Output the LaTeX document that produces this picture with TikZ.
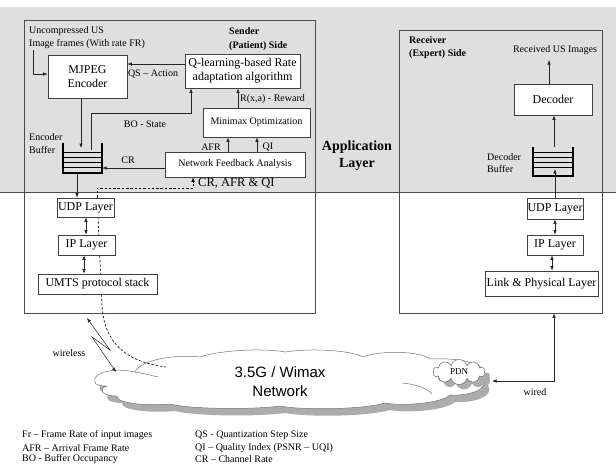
\documentclass[tikz,border=0pt]{standalone}
\usepackage{fontspec}
\setmainfont{Liberation Serif}
\newfontfamily\sansf{Liberation Sans}
\usetikzlibrary{arrows.meta,shapes.symbols,shadows}
\begin{document}
\begin{tikzpicture}[x=1pt,y=-1pt,
  box/.style={draw=black!75, line width=0.6pt, fill=white, inner sep=0pt, align=center, font=\fontsize{12}{14}\selectfont},
  smallbox/.style={box, font=\fontsize{10}{12}\selectfont},
  lbl/.style={inner sep=0pt, font=\fontsize{10}{13}\selectfont},
  blbl/.style={inner sep=0pt, align=left, font=\bfseries\fontsize{10}{14}\selectfont},
  arr/.style={-{Latex[length=4.5pt,width=3.5pt]}, line width=0.6pt, draw=black!85},
  darr/.style={{Latex[length=4.5pt,width=3.5pt]}-{Latex[length=4.5pt,width=3.5pt]}, line width=0.6pt, draw=black!85},
  frame/.style={draw=black!70, line width=0.7pt, inner sep=0pt},
  bufnode/.style={inner sep=0pt},
  thickbuf/.style={line width=1.7pt},
  fbdash/.style={dashed, dash pattern=on 2.5pt off 1.8pt, line width=0.6pt},
  cloudline/.style={draw=black!55, line width=0.5pt}
]
\useasboundingbox (0,0) rectangle (616,464);
\fill[white] (0,0) rectangle (616,464);
\fill[gray!25] (0,7) rectangle (616,192);
\draw[black!70, line width=0.7pt] (0,192) -- (616,192);

% frames
\node[frame, minimum width=291pt, minimum height=293pt] (sbox) at (169.5,166.5) {};
\node[frame, minimum width=203pt, minimum height=283pt] (rbox) at (500.5,171.5) {};

% main network cloud
\path[cloudline, fill=white, drop shadow={shadow xshift=5pt, shadow yshift=-7pt, fill=gray!65, opacity=1}]
  (95,382) .. controls (92,373) and (112,367) .. (135,372)
  .. controls (140,360) and (175,354) .. (200,357)
  .. controls (220,350) and (265,348) .. (285,352)
  .. controls (310,348) and (350,350) .. (363,357)
  .. controls (380,350) and (420,351) .. (430,359)
  .. controls (470,357) and (492,368) .. (483,378)
  .. controls (490,389) and (470,396) .. (450,395)
  .. controls (440,404) and (400,406) .. (385,403)
  .. controls (360,410) and (300,410) .. (280,406)
  .. controls (250,410) and (190,409) .. (170,404)
  .. controls (150,406) and (116,404) .. (117,396)
  .. controls (100,396) and (98,388) .. (107,386)
  .. controls (100,386) and (95,385) .. (95,382) -- cycle;
\draw[cloudline] (135,372) .. controls (142,373) and (150,375) .. (158,377);
\draw[cloudline] (402,383) .. controls (415,384) and (427,388) .. (432,394);
\node[inner sep=0pt, align=center, font=\sansf\fontsize{15}{19}\selectfont] (nettxt) at (280,382) {3.5G / Wimax\\Network};
\node[cloud, cloud puffs=10, aspect=1.9, draw=black!60, fill=white, line width=0.5pt,
      minimum width=52pt, minimum height=25pt, inner sep=0pt,
      drop shadow={shadow xshift=5pt, shadow yshift=-5pt, fill=gray!65, opacity=1},
      font=\fontsize{9}{10}\selectfont] (pdn) at (459,372) {PDN};

% dashed path down to the network
\coordinate (dt) at (98,217);
\coordinate (dm) at (102,305);
\coordinate (de) at (166,367);
\draw[fbdash] (dt) -- (dm) .. controls (104,345) and (128,362) .. (de);

% sender boxes
\node[box, minimum width=79pt, minimum height=43pt] (mjpeg) at (87.5,76.5) {MJPEG\\Encoder};
\node[box, minimum width=115pt, minimum height=34pt] (q) at (242.5,71) {Q-learning-based Rate\\adaptation algorithm};
\node[smallbox, minimum width=107pt, minimum height=29pt] (mm) at (256.5,122.5) {Minimax Optimization};
\node[smallbox, minimum width=140pt, minimum height=25pt] (nfa) at (235,164.5) {Network Feedback Analysis};
\node[box, minimum width=57pt, minimum height=19pt] (sudp) at (85.5,207.5) {UDP Layer};
\node[box, minimum width=57pt, minimum height=20pt] (sip) at (86.5,245) {IP Layer};
\node[box, minimum width=119pt, minimum height=20pt] (umts) at (97.5,284) {UMTS protocol stack};

% receiver boxes
\node[box, minimum width=78pt, minimum height=31pt] (dec) at (553,99.5) {Decoder};
\node[box, minimum width=56pt, minimum height=21pt] (rudp) at (555,208.5) {UDP Layer};
\node[box, minimum width=56pt, minimum height=20pt] (rip) at (555,245) {IP Layer};
\node[box, minimum width=113pt, minimum height=25pt] (link) at (541.5,283.5) {Link \& Physical Layer};

% buffers
\node[bufnode, minimum width=39pt, minimum height=30pt] (ebuf) at (82.5,158) {};
\foreach \d in {9,14,19,24}
  \draw[line width=0.5pt] ([yshift=-\d pt]ebuf.north west) -- ([yshift=-\d pt]ebuf.north east);
\draw[thickbuf] (ebuf.north west) -- (ebuf.south west) -- (ebuf.south east) -- (ebuf.north east);
\node[bufnode, minimum width=40pt, minimum height=29pt] (dbuf) at (553,161.5) {};
\foreach \d in {5,10,15,20}
  \draw[line width=0.5pt] ([yshift=-\d pt]dbuf.north west) -- ([yshift=-\d pt]dbuf.north east);
\draw[thickbuf] (dbuf.north west) -- (dbuf.south west) -- (dbuf.south east) -- (dbuf.north east);

% texts
\node[lbl, align=left, anchor=north west] (intxt) at (29,26.6) {Uncompressed US\\Image frames (With rate FR)};
\node[blbl, anchor=north west] (sendtxt) at (229,27.6) {Sender\\(Patient) Side};
\node[lbl] (qsact) at (153,74) {QS -- Action};
\node[lbl] (bost) at (145,124) {BO - State};
\node[lbl, anchor=west] (rew) at (240,99) {R(x,a) - Reward};
\node[lbl] (afr) at (211,147) {AFR};
\node[lbl] (qi) at (268,147) {QI};
\node[lbl] (crl) at (128,160) {CR};
\node[inner sep=0pt, anchor=west, font=\fontsize{12.5}{14}\selectfont] (cafq) at (198,183) {CR, AFR \& QI};
\node[lbl, align=left, anchor=north west] (ebtxt) at (29,133.6) {Encoder\\Buffer};
\node[inner sep=0pt, align=center, font=\bfseries\fontsize{14}{17}\selectfont] (app) at (357,156) {Application\\Layer};
\node[blbl, anchor=north west, font=\bfseries\fontsize{10}{13}\selectfont] (recvtxt) at (409,36.6) {Receiver\\(Expert) Side};
\node[lbl] (rimg) at (555,50) {Received US Images};
\node[lbl, align=left, anchor=north west, font=\fontsize{10}{12}\selectfont] (dbtxt) at (487,153.6) {Decoder\\Buffer};
\node[lbl] (wless) at (69,353) {wireless};
\node[lbl] (wired) at (535,392) {wired};

% legend
\node[lbl, anchor=west] (lg1) at (22,435) {Fr -- Frame Rate of input images};
\node[lbl, anchor=west] (lg2) at (22,448) {AFR -- Arrival Frame Rate};
\node[lbl, anchor=west] (lg3) at (22,459) {BO - Buffer Occupancy};
\node[lbl, anchor=west] (lg4) at (195,435) {QS - Quantization Step Size};
\node[lbl, anchor=west] (lg5) at (195,448) {QI -- Quality Index (PSNR -- UQI)};
\node[lbl, anchor=west] (lg6) at (195,459) {CR -- Channel Rate};

% connectors (sender)
\coordinate (inS) at (33,50);
\draw[arr] (inS) |- ([yshift=2.5pt]mjpeg.west);
\coordinate (qa) at ([yshift=7pt]q.west);
\draw[arr] (qa) -- (mjpeg.east |- qa);
\coordinate (e1) at (81,148);
\draw[arr] (mjpeg.south -| e1) -- (e1);
\coordinate (bo1) at (91,150);
\coordinate (bo2) at (191,113);
\draw[arr] (bo1) |- (bo2) -- (q.south -| bo2);
\coordinate (r1) at (238,0);
\draw[arr] (mm.north -| r1) -- (q.south -| r1);
\coordinate (a1) at (228,0);
\draw[arr] (nfa.north -| a1) -- (mm.south -| a1);
\coordinate (a2) at (257,0);
\draw[arr] (nfa.north -| a2) -- (mm.south -| a2);
\coordinate (cr) at (0,168);
\draw[arr] (nfa.west |- cr) -- (ebuf.east |- cr);
\coordinate (x77) at (77,0);
\draw[arr] (ebuf.south -| x77) -- (sudp.north -| x77);
\coordinate (x86) at (86,0);
\draw[darr] (sudp.south -| x86) -- (sip.north -| x86);
\coordinate (x84) at (84,0);
\draw[darr] (sip.south -| x84) -- (umts.north -| x84);
\coordinate (fb) at (193,188);
\coordinate (x97) at (97,0);
\draw[fbdash, -{Latex[length=4.5pt,width=3.5pt]}] (sudp.north -| x97) |- (fb) -- (nfa.south -| fb);

% connectors (receiver)
\coordinate (x549) at (549,60);
\draw[arr] (dec.north -| x549) -- (x549);
\coordinate (db1) at (554,147);
\draw[arr] (db1) -- (dec.south -| db1);
\coordinate (db2) at (555,169);
\draw[arr] (rudp.north -| db2) -- (db2);
\coordinate (x555) at (555,0);
\draw[darr] (rudp.south -| x555) -- (rip.north -| x555);
\coordinate (x552) at (552,0);
\draw[darr] (rip.south -| x552) -- (link.north -| x552);

% wired and wireless
\coordinate (wc) at (554,381);
\coordinate (we) at (492,381);
\draw[darr] (rbox.south -| wc) -- (wc) -- (we);
\coordinate (w1) at (87,318);
\coordinate (w2) at (110,350);
\coordinate (w3) at (92,337);
\coordinate (w4) at (116,372);
\draw[darr, line width=0.5pt] (w1) -- (w2) -- (w3) -- (w4);
\end{tikzpicture}
\end{document}
